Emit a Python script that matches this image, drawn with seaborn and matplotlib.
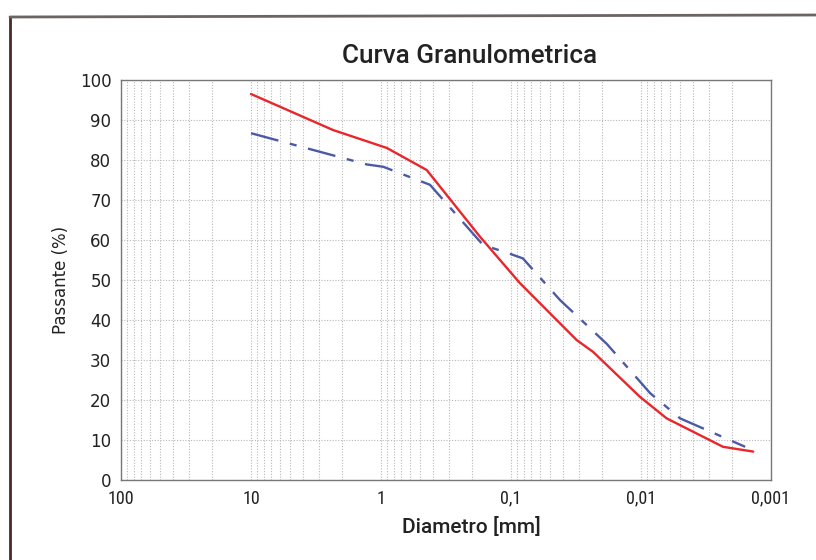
import matplotlib
matplotlib.use("Agg")
import matplotlib.pyplot as plt
import seaborn as sns
import pandas as pd
import numpy as np
from matplotlib import font_manager as fm
from matplotlib.ticker import FixedLocator, FixedFormatter, LogLocator, NullFormatter
from matplotlib.lines import Line2D

# --- data ---
red_d = [10.0, 2.34, 0.90, 0.445, 0.173, 0.0853, 0.0313, 0.0233, 0.0102, 0.00634, 0.00234, 0.00137]
red_p = [96.5, 87.5, 83.0, 77.5, 60.8, 49.2, 35.0, 32.0, 20.8, 15.4, 8.3, 7.1]
blue_d = [10.0, 1.29, 0.96, 0.42, 0.164, 0.107, 0.081, 0.042, 0.0183, 0.0085, 0.0050, 0.00158]
blue_p = [86.7, 78.9, 78.3, 73.8, 58.75, 56.8, 55.4, 45.0, 34.0, 21.7, 15.4, 8.3]
x_ticks = [100, 10, 1, 0.1, 0.01, 0.001]
x_labels = ["100", "10", "1", "0,1", "0,01", "0,001"]
y_ticks = [0, 10, 20, 30, 40, 50, 60, 70, 80, 90, 100]

df = pd.concat([
    pd.DataFrame({"d": red_d, "p": red_p, "s": "A"}),
    pd.DataFrame({"d": blue_d, "p": blue_p, "s": "B"}),
])

sns.set_theme(style="white")
plt.rcParams['font.family'] = ['DejaVu Sans']

names = {f.name for f in fm.fontManager.ttflist}
narrow_family = 'Roboto Condensed' if 'Roboto Condensed' in names else 'DejaVu Sans'
label_family = 'Roboto' if 'Roboto' in names else 'DejaVu Sans'

fig = plt.figure(figsize=(8.16, 5.60), dpi=100)
ax = fig.add_axes([121/816, 1-480/560, 650/816, 400/560])

sns.lineplot(data=df, x="d", y="p", hue="s", style="s",
             palette={"A": "#e8262c", "B": "#4c5aa6"},
             dashes={"A": "", "B": (12, 5, 3, 5)},
             linewidth=1.7, sort=False, legend=False, ax=ax)

ax.set_xscale("log")
ax.set_xlim(100, 0.001)
ax.set_ylim(0, 100)
ax.xaxis.set_major_locator(FixedLocator(x_ticks))
ax.xaxis.set_major_formatter(FixedFormatter(x_labels))
ax.xaxis.set_minor_locator(LogLocator(base=10, subs=np.arange(2, 10)))
ax.xaxis.set_minor_formatter(NullFormatter())
ax.set_yticks(y_ticks)

ax.grid(True, which="both", axis="x", color="#b8b8b8", linestyle=(0, (1, 1.5)), linewidth=0.8)
ax.grid(True, which="major", axis="y", color="#b8b8b8", linestyle=(0, (1, 1.5)), linewidth=0.8)
for s in ax.spines.values():
    s.set_color("#777777")
    s.set_linewidth(1.0)
ax.tick_params(axis="both", which="both", length=0, pad=7)

for lab in ax.get_xticklabels():
    lab.set_family(narrow_family)
    lab.set_fontsize(13)
    lab.set_color("#222222")
for lab in ax.get_yticklabels():
    lab.set_fontsize(12)
    lab.set_color("#222222")

ax.set_xlabel("Diametro [mm]", family=label_family, fontweight="medium",
              fontsize=15, color="#222222")
ax.xaxis.set_label_coords((471 - 121) / 650, (480 - 527) / 400)
ax.xaxis.label.set_va("center")
ax.set_ylabel("Passante (%)", fontsize=12, color="#222222")
ax.yaxis.set_label_coords((61 - 121) / 650, 0.5)
ax.yaxis.label.set_va("center")
fig.text(470/816, 1 - 56/560, "Curva Granulometrica", family=label_family,
         fontweight="medium", fontsize=18.8, ha="center", va="center", color="#222222")

# scanned frame lines
fig.add_artist(Line2D([10/816, 10/816], [0, 1-17/560], transform=fig.transFigure,
                      color="#4a2a28", linewidth=2.0))
fig.add_artist(Line2D([10/816, 1], [1-17/560, 1-15/560], transform=fig.transFigure,
                      color="#6a6462", linewidth=2.0))

fig.savefig("out.png", dpi=100, facecolor="white")
